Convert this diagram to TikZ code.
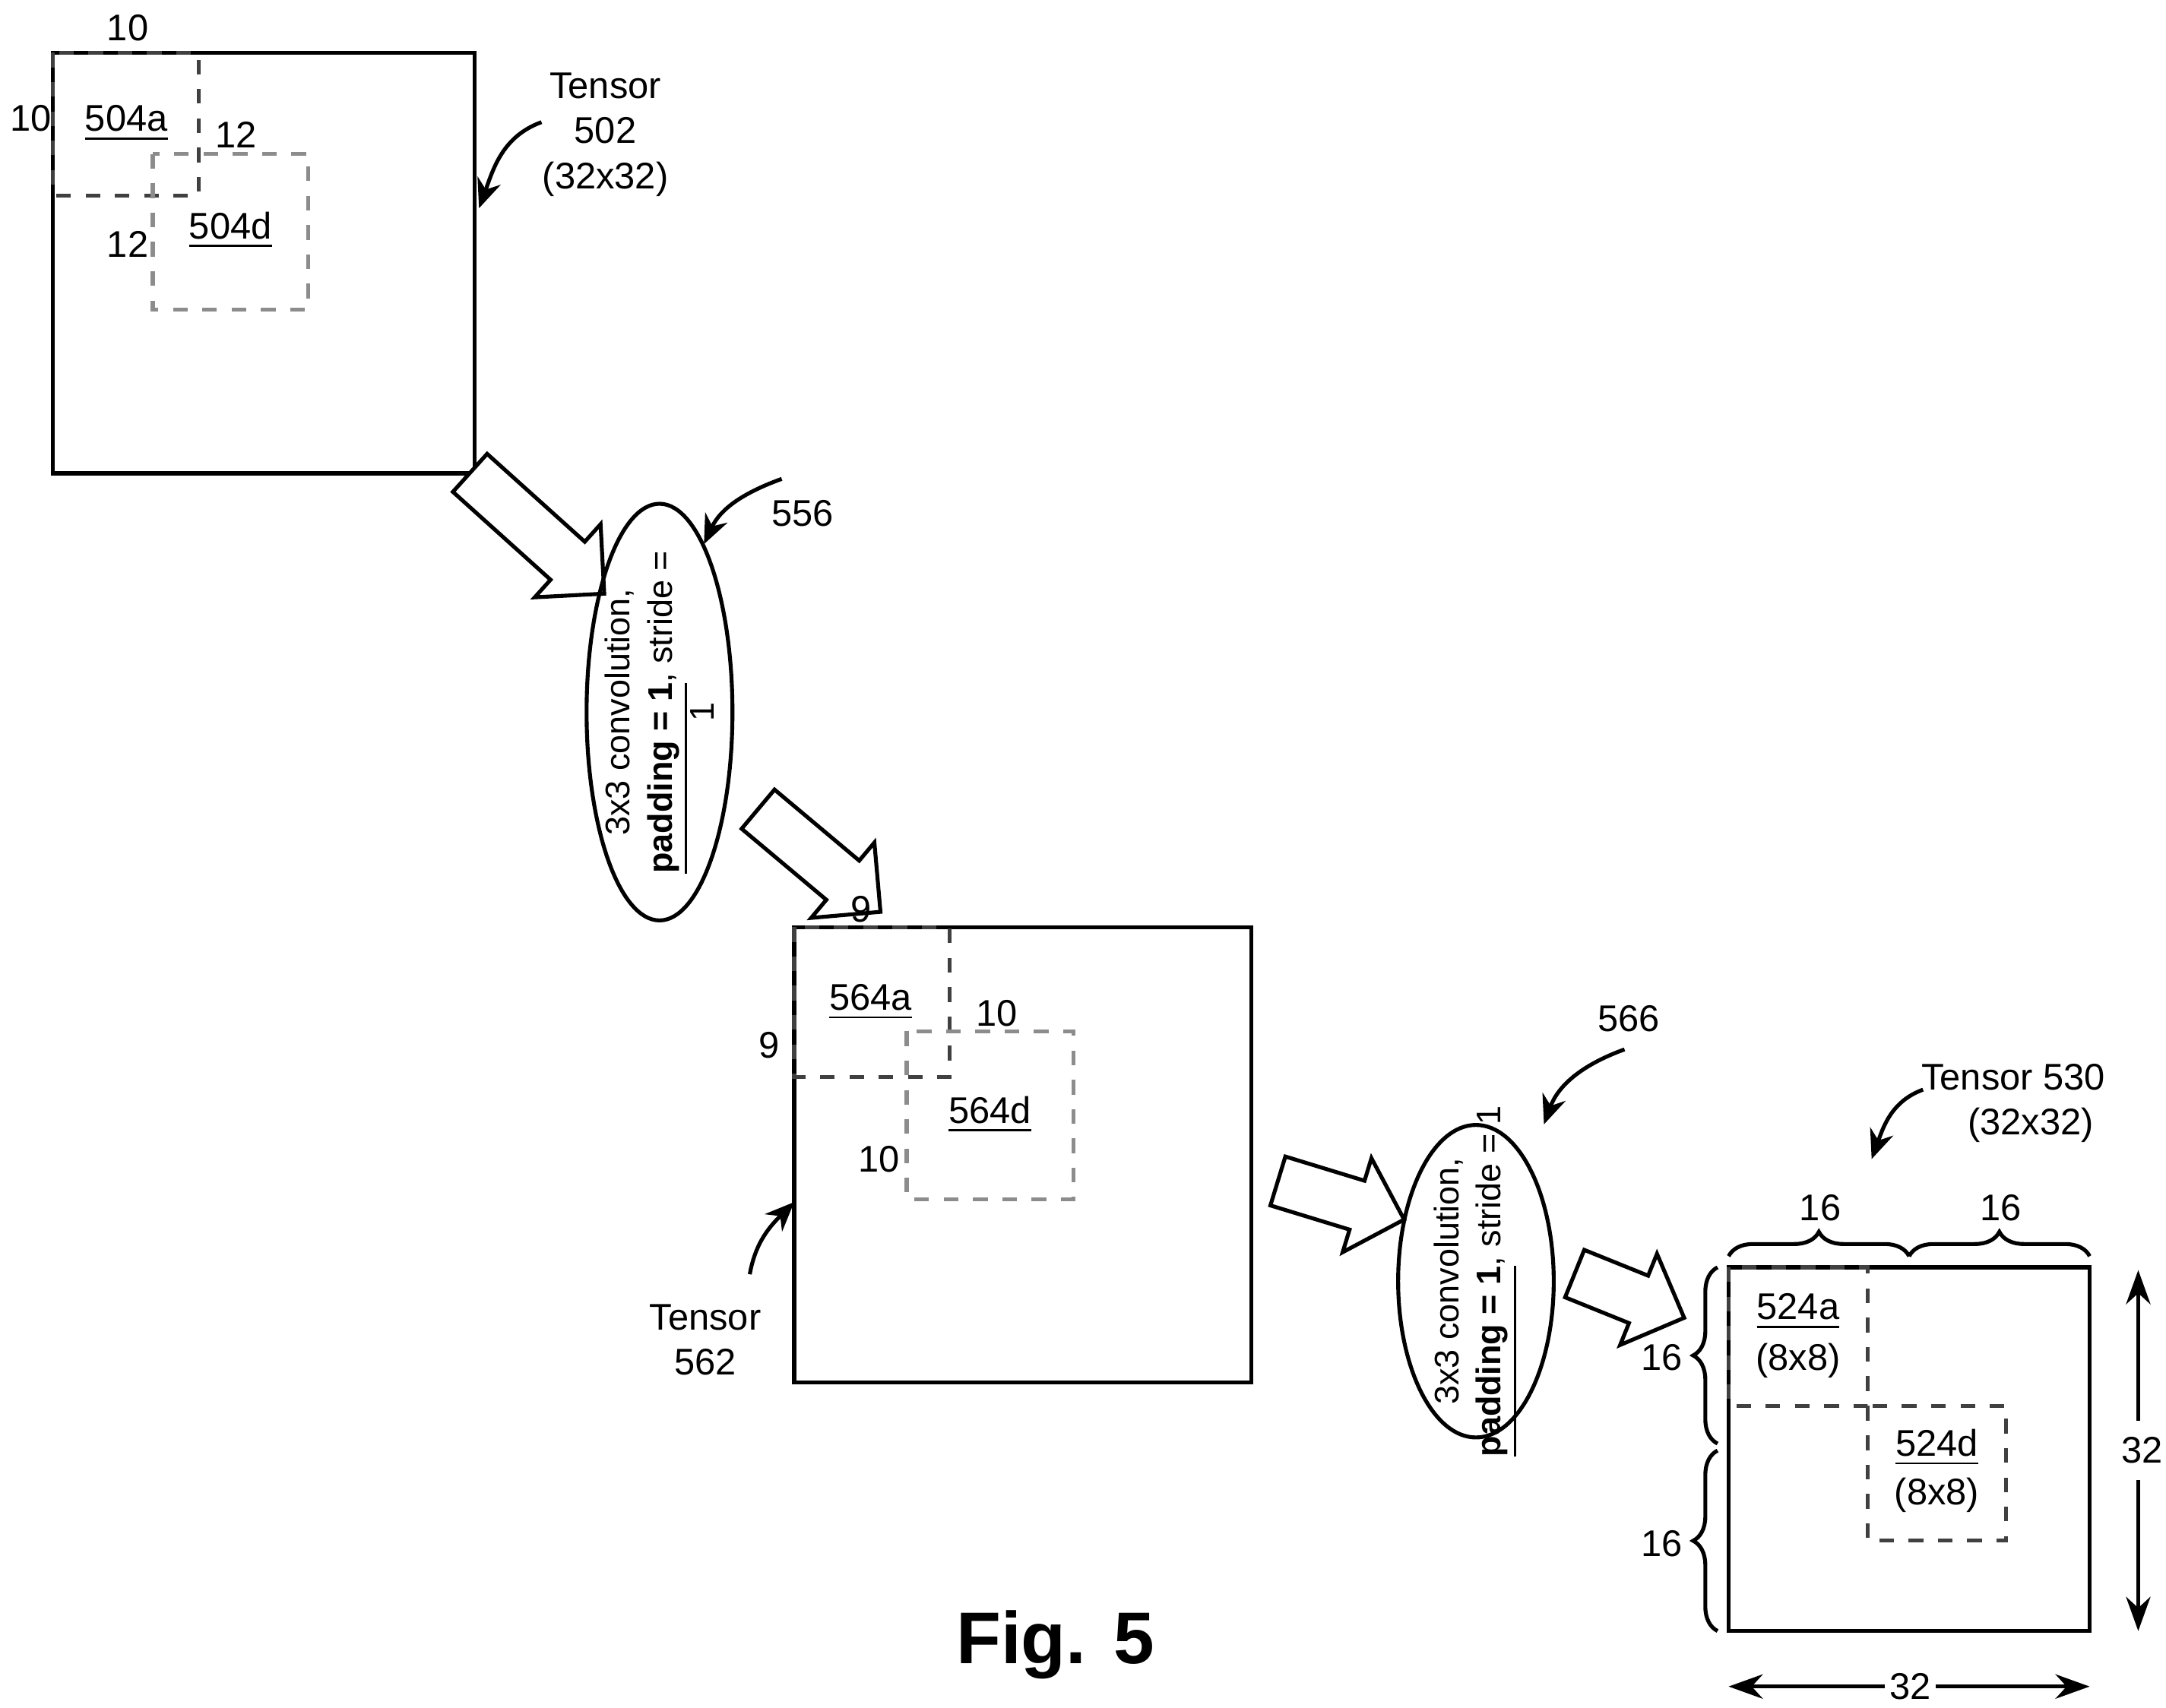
\documentclass[tikz,border=0pt]{standalone}
\usepackage{fontspec}
\setmainfont{Liberation Sans}
\usetikzlibrary{shapes.geometric,shapes.arrows,decorations.pathreplacing,arrows.meta}
\begin{document}
\begin{tikzpicture}[x=0.01cm,y=-0.01cm,font=\fontsize{7.6}{9.2}\selectfont]
	\tikzstyle{tensor} = [draw=black, thick]
	\tikzstyle{tile} = [draw=black!75, dashed, thick]
	\tikzstyle{halo} = [draw=black!45, dashed, thick]
	\tikzstyle{flow} = [single arrow, draw=black, thick, fill=white, minimum height=1.3cm, inner xsep=0pt, inner ysep=0.17cm, single arrow head extend=0.17cm, single arrow head indent=0pt]
	\tikzstyle{conv} = [ellipse, draw=black, thick, inner sep=0pt]
	\tikzstyle{convtext} = [rotate=90, align=center, font=\fontsize{7}{8.6}\selectfont]
	\tikzstyle{pointer} = [thick,-{Stealth[length=6pt,width=5pt]}]
	\tikzstyle{dim} = [thick,{Stealth[length=7pt,width=5pt]}-{Stealth[length=7pt,width=5pt]}]
	\tikzstyle{curly} = [thick, decorate, decoration={brace, amplitude=5pt}]

	\useasboundingbox (0,0) rectangle (1560,1230);

	% tensor 502
	\draw [tensor] (38,38) rectangle (342,341);
	\draw [tile] (38,38) rectangle (143,141);
	\draw [halo] (110,111) rectangle (222,223);
	\node (t502a) at (92,20) {10};
	\node (t502b) at (22,85) {10};
	\node (l504a) at (91,89) {\underline{504a}};
	\node (t502c) at (170,97) {12};
	\node (t502d) at (92,176) {12};
	\node (l504d) at (166,166) {\underline{504d}};
	\node (tensorA) at (436,97) [align=center] {Tensor\\502\\(32x32)};
	\coordinate (tensorAstart) at (390,88);
	\coordinate (tensorAend) at (345,150);
	\draw [pointer] (tensorAstart) to[out=200, in=70] (tensorAend);

	% first convolution
	\node (flowA) at (380,378) [flow, rotate=-42] {};
	\node (convA) at (475,513) [conv, minimum width=1.05cm, minimum height=3cm] {};
	\node at (convA) [convtext] {3x3 convolution,\\\textbf{\underline{padding = 1}}, stride =\\1};
	\node (n556) at (578,370) {556};
	\coordinate (convAstart) at (563,345);
	\coordinate (convAend) at (507,392);
	\draw [pointer] (convAstart) to[out=200, in=65] (convAend);
	\node (flowB) at (583,614) [flow, rotate=-40, minimum height=1.15cm] {};

	% tensor 562
	\draw [tensor] (572,668) rectangle (901,996);
	\draw [tile] (572,668) rectangle (684,776);
	\draw [halo] (653,743) rectangle (773,864);
	\node (t562a) at (620,655) {9};
	\node (t562b) at (554,753) {9};
	\node (l564a) at (627,722) {\underline{564a}};
	\node (t562c) at (718,730) {10};
	\node (t562d) at (633,835) {10};
	\node (l564d) at (713,803) {\underline{564d}};
	\node (tensorB) at (508,965) [align=center] {Tensor\\562};
	\coordinate (tensorBstart) at (540,918);
	\coordinate (tensorBend) at (572,866);
	\draw [pointer] (tensorBstart) to[out=80, in=225] (tensorBend);

	% second convolution
	\node (flowC) at (957,862) [flow, rotate=-17, minimum height=0.95cm] {};
	\node (convB) at (1063,923) [conv, minimum width=1.12cm, minimum height=2.25cm] {};
	\node at (convB) [convtext] {3x3 convolution,\\\textbf{\underline{padding = 1}}, stride = 1};
	\node (n566) at (1173,734) {566};
	\coordinate (convBstart) at (1170,756);
	\coordinate (convBend) at (1112,810);
	\draw [pointer] (convBstart) to[out=200, in=70] (convBend);
	\node (flowD) at (1165,930) [flow, rotate=-22, minimum height=0.85cm] {};

	% tensor 530
	\draw [tensor] (1245,913) rectangle (1505,1175);
	\draw [tile] (1245,913) rectangle (1345,1013);
	\draw [tile] (1345,1013) rectangle (1445,1110);
	\node (l524a) at (1295,945) {\underline{524a}};
	\node (s524a) at (1295,980) {(8x8)};
	\node (l524d) at (1395,1043) {\underline{524d}};
	\node (s524d) at (1395,1077) {(8x8)};
	\draw [curly] (1245,905) -- (1375,905);
	\draw [curly] (1375,905) -- (1505,905);
	\draw [curly] (1237,1040) -- (1237,913);
	\draw [curly] (1237,1175) -- (1237,1045);
	\node (b1) at (1311,870) {16};
	\node (b2) at (1441,870) {16};
	\node (b3) at (1197,978) {16};
	\node (b4) at (1197,1112) {16};
	\coordinate (dimT) at (1540,915);
	\coordinate (dimB) at (1540,1175);
	\draw [dim] (dimT) -- (dimB);
	\node (h32) at (1543,1045) [fill=white] {32};
	\coordinate (dimL) at (1245,1215);
	\coordinate (dimR) at (1505,1215);
	\draw [dim] (dimL) -- (dimR);
	\node (w32) at (1376,1215) [fill=white, inner sep=1pt] {32};
	\node (tensorC) at (1450,795) [align=center] {Tensor 530\\\hspace*{0.25cm}(32x32)};
	\coordinate (tensorCstart) at (1385,785);
	\coordinate (tensorCend) at (1348,835);
	\draw [pointer] (tensorCstart) to[out=200, in=70] (tensorCend);

	\node (caption) at (760,1185) {\fontsize{15}{18}\selectfont\textbf{Fig. 5}};
\end{tikzpicture}
\end{document}
